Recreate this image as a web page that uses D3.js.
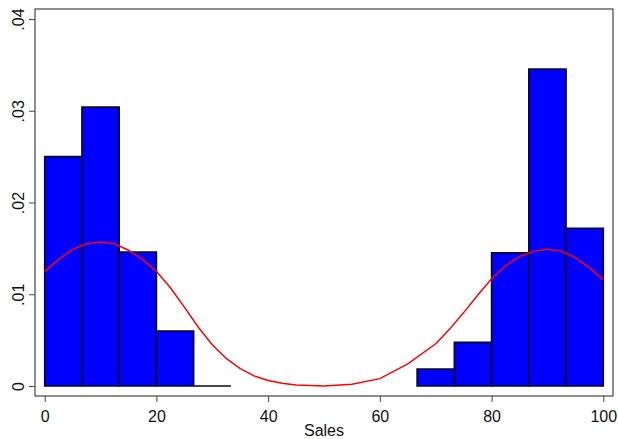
<!DOCTYPE html>
<html>
<head>
<meta charset="utf-8">
<script src="https://cdn.jsdelivr.net/npm/d3@7"></script>
<style>
  body { margin: 0; background: #fff; }
  svg { display: block; font-family: "Liberation Sans", Arial, sans-serif; }
</style>
</head>
<body>
<svg id="chart" width="619" height="439"></svg>
<script>
// histogram bins (width 100/15), density per bin
const binStarts = [0, 6.667, 13.333, 20, 26.667, 33.333, 40, 46.667, 53.333, 60, 66.667, 73.333, 80, 86.667, 93.333];
const binWidth = 100 / 15;
const binDensity = [0.0250, 0.0304, 0.0146, 0.0060, 0.0000, null, null, null, null, null, 0.00185, 0.00476, 0.01453, 0.03455, 0.0172];

// kernel density curve
const kdX = [0, 2.5, 5, 7.5, 10, 12.5, 15, 17.5, 20, 22.5, 25, 27.5, 30, 32.5, 35, 37.5, 40, 42.5, 45, 50, 55, 60, 65, 70, 72.5, 75, 77.5, 80, 82.5, 85, 87.5, 90, 92.5, 95, 97.5, 100];
const kdY = [0.0125, 0.0138, 0.0149, 0.0155, 0.0157, 0.0155, 0.0148, 0.0138, 0.0125, 0.0107, 0.0086, 0.0064, 0.0045, 0.0030, 0.0019, 0.0011, 0.0006, 0.0003, 0.0001, 0.0000, 0.0002, 0.0008, 0.0024, 0.0046, 0.0062, 0.0080, 0.0099, 0.0117, 0.0131, 0.0141, 0.0147, 0.0149, 0.0147, 0.0140, 0.0129, 0.0116];

const xTicks = [0, 20, 40, 60, 80, 100];
const yTicks = [0, 0.01, 0.02, 0.03, 0.04];
const yTickLabels = ['0', '.01', '.02', '.03', '.04'];

const frame = { left: 35, right: 613, top: 9, bottom: 396 };

const x = d3.scaleLinear([0, 100], [44.7, 603.3]);
const y = d3.scaleLinear([0, 0.04], [386, 19]);

const svg = d3.select('#chart');

// plot frame
svg.append('rect')
	.attr('x', frame.left)
	.attr('y', frame.top)
	.attr('width', frame.right - frame.left)
	.attr('height', frame.bottom - frame.top)
	.attr('fill', '#fff')
	.attr('stroke', '#444')
	.attr('stroke-width', 1.2);

// bars (drawn as paths so a zero-height bin still shows its outline)
const bins = binStarts.map((s, i) => ({ x0: s, x1: s + binWidth, d: binDensity[i] })).filter(b => b.d !== null);
svg.append('g')
	.selectAll('path')
	.data(bins)
	.join('path')
	.attr('d', d => {
		const [x0, x1, y0, y1] = [x(d.x0), x(d.x1), y(0), y(d.d)];
		return `M${x0},${y0}V${y1}H${x1}V${y0}Z`;
	})
	.attr('fill', '#0000ff')
	.attr('stroke', '#0a0a1a')
	.attr('stroke-width', 1.6);

// density line
const line = d3.line().x(d => x(d[0])).y(d => y(d[1]));
svg.append('path')
	.attr('d', line(kdX.map((v, i) => [v, kdY[i]])))
	.attr('fill', 'none')
	.attr('stroke', '#ff0000')
	.attr('stroke-width', 1.5);

// x axis
const xAxis = svg.append('g')
	.attr('transform', `translate(0, ${frame.bottom})`)
	.call(d3.axisBottom(x).tickValues(xTicks).tickSize(6).tickSizeOuter(0));
xAxis.select('.domain').remove();
xAxis.selectAll('.tick line').attr('stroke', '#444');
xAxis.selectAll('.tick text')
	.attr('font-size', 16)
	.attr('fill', '#111')
	.attr('y', 26)
	.attr('dy', 0);

// y axis with rotated labels
const yAxis = svg.append('g')
	.attr('transform', `translate(${frame.left}, 0)`)
	.call(d3.axisLeft(y).tickValues(yTicks).tickFormat((d, i) => yTickLabels[i]).tickSize(6).tickSizeOuter(0));
yAxis.select('.domain').remove();
yAxis.selectAll('.tick line').attr('stroke', '#444');
yAxis.selectAll('.tick text')
	.attr('font-size', 16)
	.attr('fill', '#111')
	.attr('x', 0)
	.attr('dy', 0)
	.attr('text-anchor', 'middle')
	.attr('transform', 'translate(-11.5, 0) rotate(-90)');

// axis title
svg.append('text')
	.attr('x', x(50))
	.attr('y', 436)
	.attr('text-anchor', 'middle')
	.attr('font-size', 16)
	.attr('fill', '#111')
	.text('Sales');
</script>
</body>
</html>
